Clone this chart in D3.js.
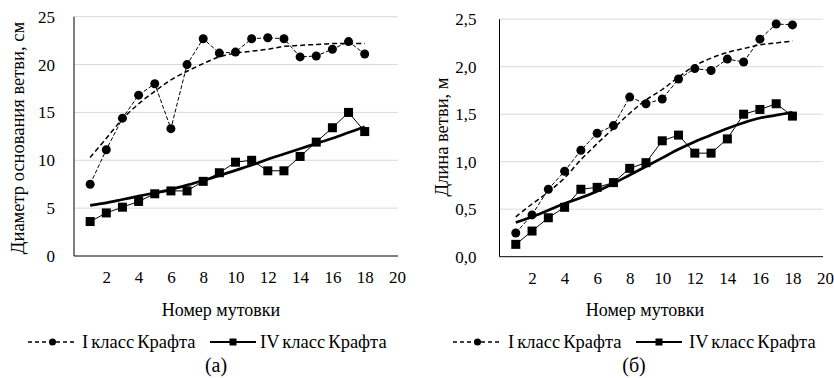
<!DOCTYPE html>
<html>
<head>
<meta charset="utf-8">
<script src="https://cdn.jsdelivr.net/npm/d3@7"></script>
<style>
  body { margin: 0; background: #fff; }
  svg text { font-family: "Liberation Serif", "Times New Roman", serif; fill: #000; }
</style>
</head>
<body>
<script>
// номера мутовок
var whorls = [1,2,3,4,5,6,7,8,9,10,11,12,13,14,15,16,17,18];
var xTicks = [2,4,6,8,10,12,14,16,18,20];

// (а) диаметр основания ветви, см
var diamI  = [7.5,11.1,14.4,16.8,18.0,13.3,20.0,22.7,21.2,21.3,22.7,22.8,22.7,20.8,20.9,21.6,22.4,21.1];
var diamIV = [3.6,4.5,5.1,5.7,6.5,6.8,6.8,7.8,8.7,9.8,10.0,8.9,8.9,10.4,11.9,13.4,15.0,13.0];
// линии тренда
var diamTrendI  = [10.3,12.3,14.3,15.9,17.2,18.4,19.3,20.1,20.8,21.2,21.4,21.6,21.9,22.0,22.1,22.2,22.2,22.2];
var diamTrendIV = [5.3,5.55,5.9,6.25,6.6,6.95,7.4,7.9,8.4,8.95,9.5,10.1,10.65,11.2,11.75,12.3,12.9,13.5];
var diamTicks = [0,5,10,15,20,25];

// (б) длина ветви, м
var lenI  = [0.25,0.44,0.71,0.90,1.12,1.30,1.38,1.68,1.61,1.66,1.87,1.98,1.96,2.08,2.05,2.29,2.45,2.44];
var lenIV = [0.13,0.27,0.41,0.52,0.71,0.73,0.78,0.93,0.99,1.22,1.28,1.09,1.09,1.24,1.50,1.55,1.61,1.48];
var lenTrendI  = [0.42,0.555,0.68,0.83,1.02,1.19,1.35,1.51,1.65,1.76,1.89,2.01,2.09,2.15,2.19,2.23,2.25,2.27];
var lenTrendIV = [0.36,0.42,0.49,0.56,0.62,0.69,0.77,0.86,0.95,1.04,1.13,1.21,1.28,1.35,1.41,1.46,1.49,1.52];
var lenTicks = [0,0.5,1.0,1.5,2.0,2.5];

var seriesNames = ["I класс Крафта", "IV класс Крафта"];

var svg = d3.select("body").append("svg")
    .attr("width", 834)
    .attr("height", 378);

/*
* Рисует одну панель: сетку, оси, точки и линии тренда
*/
function drawPanel(p) {
    var x = d3.scaleLinear().domain([0,20]).range([p.left, p.right]);
    var y = d3.scaleLinear().domain([0, p.yMax]).range([p.bottom, p.top]);
    var g = svg.append("g");

    // сетка
    g.selectAll("line.grid").data(p.yTicks.slice(1)).enter().append("line")
        .attr("x1", p.left).attr("x2", p.gridRight)
        .attr("y1", function(d){ return y(d); }).attr("y2", function(d){ return y(d); })
        .attr("stroke", "#d9d9d9").attr("stroke-width", 1);

    // оси
    var yAxis = d3.axisLeft(y).tickValues(p.yTicks).tickSize(0).tickPadding(p.yPad).tickFormat(p.fmt);
    g.append("g").attr("transform", "translate(" + p.left + ",0)").call(yAxis)
        .attr("font-family", null)
        .call(function(s){ s.select(".domain").remove(); })
        .selectAll("text").style("font-size", "17px");
    g.append("line").attr("x1", p.left).attr("x2", p.left).attr("y1", p.top).attr("y2", p.bottom)
        .attr("stroke", "#000").attr("stroke-width", 1);
    g.append("line").attr("x1", p.left).attr("x2", p.gridRight).attr("y1", p.bottom).attr("y2", p.bottom)
        .attr("stroke", "#000").attr("stroke-width", 1);

    var xAxis = d3.axisBottom(x).tickValues(xTicks).tickSize(0).tickPadding(15);
    g.append("g").attr("transform", "translate(0," + p.bottom + ")").call(xAxis)
        .attr("font-family", null)
        .call(function(s){ s.select(".domain").remove(); })
        .selectAll("text").style("font-size", "17px");

    // подписи осей
    g.append("text")
        .attr("transform", "translate(" + p.yTitleX + "," + p.yTitleY + ") rotate(-90)")
        .attr("text-anchor", "middle").attr("dy", "0.35em")
        .style("font-size", "18.5px").text(p.yTitle);
    g.append("text")
        .attr("x", p.xTitleX).attr("y", 316)
        .attr("text-anchor", "middle").style("font-size", "18px").text("Номер мутовки");
    g.append("text")
        .attr("x", p.letterX).attr("y", 372)
        .attr("text-anchor", "middle").style("font-size", "20px").text(p.letter);

    var line = d3.line().x(function(d, i){ return x(whorls[i]); }).y(function(d){ return y(d); });
    var trend = d3.line().curve(d3.curveCatmullRom)
        .x(function(d, i){ return x(whorls[i]); }).y(function(d){ return y(d); });

    // линии тренда
    g.append("path").datum(p.trendI).attr("d", trend)
        .attr("fill", "none").attr("stroke", "#000").attr("stroke-width", 1.5)
        .attr("stroke-dasharray", "5,3");
    g.append("path").datum(p.trendIV).attr("d", trend)
        .attr("fill", "none").attr("stroke", "#000").attr("stroke-width", 2.75);

    // ряды данных
    g.append("path").datum(p.serI).attr("d", line)
        .attr("fill", "none").attr("stroke", "#000").attr("stroke-width", 1)
        .attr("stroke-dasharray", "4,2");
    g.append("path").datum(p.serIV).attr("d", line)
        .attr("fill", "none").attr("stroke", "#000").attr("stroke-width", 1);

    g.selectAll("circle.pt").data(p.serI).enter().append("circle")
        .attr("cx", function(d, i){ return x(whorls[i]); })
        .attr("cy", function(d){ return y(d); })
        .attr("r", 4.5).attr("fill", "#000");
    g.selectAll("rect.pt").data(p.serIV).enter().append("rect")
        .attr("x", function(d, i){ return x(whorls[i]) - 4.5; })
        .attr("y", function(d){ return y(d) - 4.5; })
        .attr("width", 9).attr("height", 9).attr("fill", "#000");

    // легенда
    var L = p.legend, ly = 342;
    g.append("line").attr("x1", L[0]).attr("x2", L[0] + 49).attr("y1", ly).attr("y2", ly)
        .attr("stroke", "#000").attr("stroke-width", 1.5).attr("stroke-dasharray", "4,3");
    g.append("circle").attr("cx", L[0] + 24.5).attr("cy", ly).attr("r", 3.5).attr("fill", "#000");
    g.append("text").attr("x", L[1]).attr("y", ly).attr("dy", "0.33em")
        .style("font-size", "18.5px").style("word-spacing", "-1.5px").text(seriesNames[0]);
    g.append("line").attr("x1", L[2]).attr("x2", L[2] + 46).attr("y1", ly).attr("y2", ly)
        .attr("stroke", "#000").attr("stroke-width", 2);
    g.append("rect").attr("x", L[2] + 23 - 3.5).attr("y", ly - 3.5).attr("width", 7).attr("height", 7)
        .attr("fill", "#000");
    g.append("text").attr("x", L[3]).attr("y", ly).attr("dy", "0.33em")
        .style("font-size", "18.5px").style("word-spacing", "-1.5px").text(seriesNames[1]);
}

drawPanel({
    left: 74, right: 397, gridRight: 398, top: 16.7, bottom: 256, yMax: 25,
    yTicks: diamTicks, fmt: d3.format("d"), yPad: 19,
    yTitle: "Диаметр основания ветви, см", yTitleX: 17.5, yTitleY: 138,
    xTitleX: 221, letter: "(а)", letterX: 216,
    serI: diamI, serIV: diamIV, trendI: diamTrendI, trendIV: diamTrendIV,
    legend: [28, 82, 210, 260]
});

drawPanel({
    left: 499.5, right: 825, gridRight: 823, top: 19.2, bottom: 256.7, yMax: 2.5,
    yTicks: lenTicks, fmt: function(d){ return d3.format(".1f")(d).replace(".", ","); }, yPad: 23,
    yTitle: "Длина ветви, м", yTitleX: 442, yTitleY: 137,
    xTitleX: 645, letter: "(б)", letterX: 634,
    serI: lenI, serIV: lenIV, trendI: lenTrendI, trendIV: lenTrendIV,
    legend: [453, 508, 636, 689]
});
</script>
</body>
</html>
